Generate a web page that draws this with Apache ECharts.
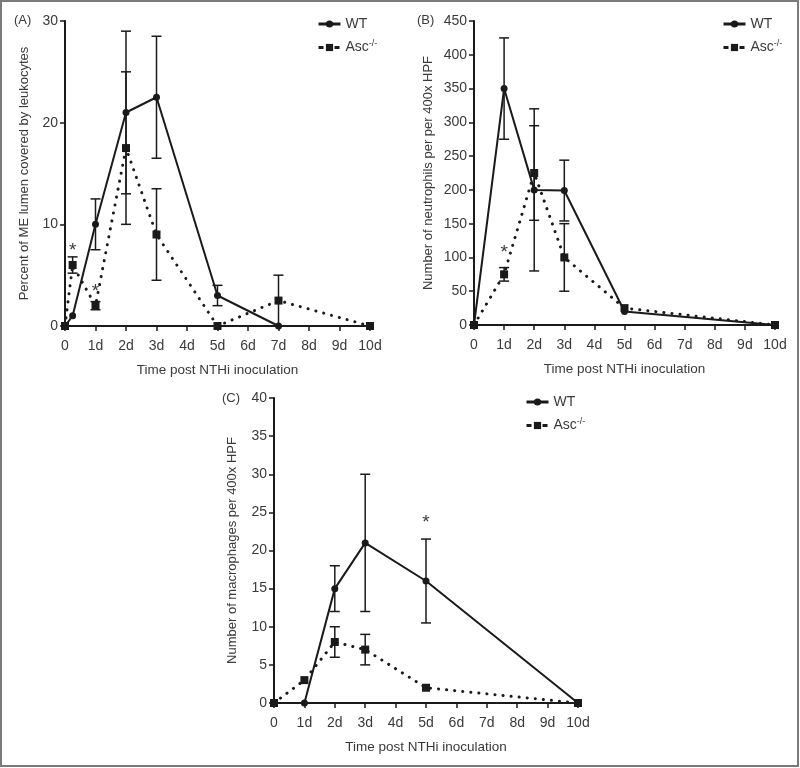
<!DOCTYPE html>
<html>
<head>
<meta charset="utf-8">
<script src="https://cdn.jsdelivr.net/npm/echarts@6/dist/echarts.min.js"></script>
<style>html,body{margin:0;padding:0;background:#fff;}#c{width:800px;height:768px;}</style>
</head>
<body>
<div id="c"></div>
<script>
// ---- Data ----
const xTickLabels = ['0','1d','2d','3d','4d','5d','6d','7d','8d','9d','10d'];
const seriesNames = ['WT', 'Asc'];

// Panel A: Percent of ME lumen covered by leukocytes
const aWT_x   = [0, 0.25, 1, 2, 3, 5, 7, 10];
const aWT_y   = [0, 1, 10, 21, 22.5, 3, 0, 0];
const aWT_err = [0, 0, 2.5, 8, 6, 1, 0, 0];
const aAsc_x   = [0, 0.25, 1, 2, 3, 5, 7, 10];
const aAsc_y   = [0, 6, 2, 17.5, 9, 0, 2.5, 0];
const aAsc_err = [0, 0.8, 0.4, 7.5, 4.5, 0, 2.5, 0];
const aStars = [[0.25, 7.8], [1, 3.8]];

// Panel B: Number of neutrophils
const bWT_x   = [0, 1, 2, 3, 5, 10];
const bWT_y   = [0, 350, 200, 199, 20, 0];
const bWT_err = [0, 75, 120, 45, 0, 0];
const bAsc_x   = [0, 1, 2, 3, 5, 10];
const bAsc_y   = [0, 75, 225, 100, 25, 0];
const bAsc_err = [0, 10, 70, 50, 0, 0];
const bStars = [[1, 113]];

// Panel C: Number of macrophages
const cWT_x   = [0, 1, 2, 3, 5, 10];
const cWT_y   = [0, 0, 15, 21, 16, 0];
const cWT_err = [0, 0, 3, 9, 5.5, 0];
const cAsc_x   = [0, 1, 2, 3, 5, 10];
const cAsc_y   = [0, 3, 8, 7, 2, 0];
const cAsc_err = [0, 0, 2, 2, 0, 0];
const cStars = [[5, 24.2]];

const panelLabels = ['(A)', '(B)', '(C)'];
const yNames = ['Percent of ME lumen covered by leukocytes', 'Number of neutrophils per per 400x HPF', 'Number of macrophages per 400x HPF'];
const xName = 'Time post NTHi inoculation';

// ---- Chart ----
const FONT = 'Liberation Sans, Arial, sans-serif';
const INK = '#1a1a1a';
const TXT = '#3a3a3a';

const grids = [
  {left: 65, top: 21, width: 305, height: 305},
  {left: 474, top: 21, width: 301, height: 304},
  {left: 274, top: 398, width: 304, height: 305}
];
const yMax = [30, 450, 40];
const yInt = [10, 50, 5];
const yGap = [34, 39, 35];

function zip(xs, ys){ return xs.map((x,i)=>[x, ys[i]]); }
function zip3(xs, ys, es){ return xs.map((x,i)=>[x, ys[i], es[i]]); }

const xAxes = grids.map((g,i)=>({
  gridIndex: i, type: 'value', min: 0, max: 10, interval: 1,
  axisLine: {lineStyle: {color: INK, width: 2}},
  axisTick: {show: true, length: 5, lineStyle: {color: INK, width: 1.5}},
  splitLine: {show: false},
  axisLabel: {color: TXT, fontSize: 14, fontFamily: FONT, margin: 13, formatter: v => xTickLabels[Math.round(v)]},
  name: xName, nameLocation: 'middle', nameGap: 37,
  nameTextStyle: {color: TXT, fontSize: 13.5, fontFamily: FONT}
}));
const yAxes = grids.map((g,i)=>({
  gridIndex: i, type: 'value', min: 0, max: yMax[i], interval: yInt[i],
  axisLine: {show: true, lineStyle: {color: INK, width: 2}},
  axisTick: {show: true, length: 5, lineStyle: {color: INK, width: 1.5}},
  splitLine: {show: false},
  axisLabel: {color: TXT, fontSize: 14, fontFamily: FONT, margin: 7},
  name: yNames[i], nameLocation: 'middle', nameGap: yGap[i],
  nameTextStyle: {color: TXT, fontSize: 13, fontFamily: FONT}
}));

function lineSeries(name, idx, data, dotted){
  return {
    name: name, type: 'line', xAxisIndex: idx, yAxisIndex: idx, data: data,
    symbol: dotted ? 'rect' : 'circle', symbolSize: dotted ? 8 : 7,
    itemStyle: {color: INK},
    lineStyle: dotted ? {color: INK, width: 3, type: [0.1, 8], cap: 'round'} : {color: INK, width: 2},
    z: dotted ? 3 : 4, animation: false
  };
}
function errSeries(name, idx, data){
  return {
    name: name, type: 'custom', xAxisIndex: idx, yAxisIndex: idx, data: data, z: 5, animation: false,
    renderItem: function(params, api){
      const x = api.value(0), y = api.value(1), e = api.value(2);
      if (!(e > 0)) return;
      const t = api.coord([x, y + e]);
      const b = api.coord([x, Math.max(0, y - e)]);
      const st = {stroke: INK, lineWidth: 1.5};
      return {type: 'group', children: [
        {type: 'line', shape: {x1: t[0], y1: t[1], x2: b[0], y2: b[1]}, style: st},
        {type: 'line', shape: {x1: t[0]-5, y1: t[1], x2: t[0]+5, y2: t[1]}, style: st},
        {type: 'line', shape: {x1: b[0]-5, y1: b[1], x2: b[0]+5, y2: b[1]}, style: st}
      ]};
    }
  };
}
function starSeries(idx, data){
  return {
    type: 'custom', xAxisIndex: idx, yAxisIndex: idx, data: data, z: 6, animation: false, silent: true,
    renderItem: function(params, api){
      const p = api.coord([api.value(0), api.value(1)]);
      return {type: 'text', x: p[0], y: p[1] + 4, style: {text: '*', fontSize: 19, fontFamily: FONT, fill: TXT, align: 'center', verticalAlign: 'middle'}};
    }
  };
}

const series = [
  lineSeries('Asc', 0, zip(aAsc_x, aAsc_y), true),
  lineSeries('WT', 0, zip(aWT_x, aWT_y), false),
  errSeries('WT', 0, zip3(aWT_x, aWT_y, aWT_err)),
  errSeries('Asc', 0, zip3(aAsc_x, aAsc_y, aAsc_err)),
  starSeries(0, aStars),
  lineSeries('Asc', 1, zip(bAsc_x, bAsc_y), true),
  lineSeries('WT', 1, zip(bWT_x, bWT_y), false),
  errSeries('WT', 1, zip3(bWT_x, bWT_y, bWT_err)),
  errSeries('Asc', 1, zip3(bAsc_x, bAsc_y, bAsc_err)),
  starSeries(1, bStars),
  lineSeries('Asc', 2, zip(cAsc_x, cAsc_y), true),
  lineSeries('WT', 2, zip(cWT_x, cWT_y), false),
  errSeries('WT', 2, zip3(cWT_x, cWT_y, cWT_err)),
  errSeries('Asc', 2, zip3(cAsc_x, cAsc_y, cAsc_err)),
  starSeries(2, cStars)
];

const legendPos = [[317, 17], [722, 17], [525, 395]];
const legends = legendPos.map(p => ({
  left: p[0], top: p[1], orient: 'vertical', itemWidth: 22, itemHeight: 9, itemGap: 8,
  padding: 0, selectedMode: false,
  data: [
    {name: 'WT', lineStyle: {width: 3}},
    {name: 'Asc', lineStyle: {type: [5, 3], width: 3, cap: 'butt'}}
  ],
  formatter: n => n === 'Asc' ? '{b|Asc}{s|-/-}' : '{b|WT}',
  textStyle: {
    color: TXT, fontFamily: FONT, fontSize: 14,
    rich: {
      b: {fontSize: 14, fontFamily: FONT, color: TXT, lineHeight: 16},
      s: {fontSize: 9, fontFamily: FONT, color: TXT, lineHeight: 16, padding: [0, 0, 8, 0]}
    }
  }
}));

const graphic = [
  {type: 'rect', shape: {x: 1, y: 1, width: 797, height: 765}, style: {fill: 'none', stroke: '#7a7a7a', lineWidth: 2}, z: 10},
  {type: 'text', left: 14, top: 14, style: {text: panelLabels[0], fontSize: 13, fontFamily: FONT, fill: TXT}},
  {type: 'text', left: 417, top: 14, style: {text: panelLabels[1], fontSize: 13, fontFamily: FONT, fill: TXT}},
  {type: 'text', left: 222, top: 392, style: {text: panelLabels[2], fontSize: 13, fontFamily: FONT, fill: TXT}}
];

const chart = echarts.init(document.getElementById('c'), null, {renderer: 'canvas'});
chart.setOption({
  backgroundColor: '#fff',
  animation: false,
  grid: grids,
  xAxis: xAxes,
  yAxis: yAxes,
  legend: legends,
  graphic: graphic,
  series: series
});
</script>
</body>
</html>
